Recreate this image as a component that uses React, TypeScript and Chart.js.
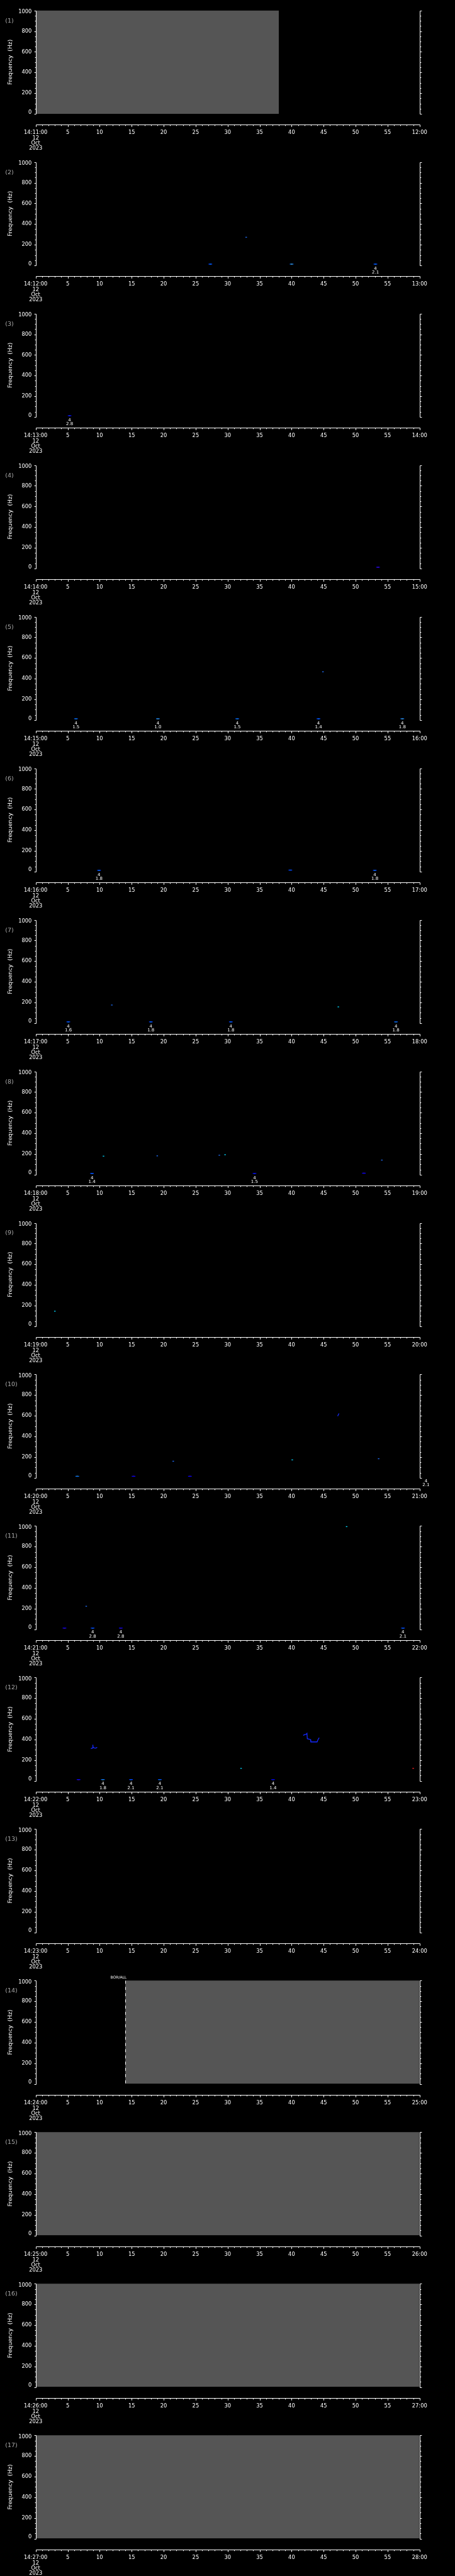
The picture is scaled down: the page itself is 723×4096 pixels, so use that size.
import React, { useEffect, useRef } from 'react';
import { Chart, registerables } from 'chart.js';

Chart.register(...registerables);

// ---------------- data ----------------
const startLabels = [
  '14:11:00', '14:12:00', '14:13:00', '14:14:00', '14:15:00', '14:16:00', '14:17:00', '14:18:00', '14:19:00',
  '14:20:00', '14:21:00', '14:22:00', '14:23:00', '14:24:00', '14:25:00', '14:26:00', '14:27:00',
];
const endLabels = [
  '12:00', '13:00', '14:00', '15:00', '16:00', '17:00', '18:00', '19:00', '20:00',
  '21:00', '22:00', '23:00', '24:00', '25:00', '26:00', '27:00', '28:00',
];
const dateLines = ['12', 'Oct', '2023'];
const secondTicks = [5, 10, 15, 20, 25, 30, 35, 40, 45, 50, 55];
const freqTicks = [0, 200, 400, 600, 800, 1000];

// no-data (gray) interval per panel, seconds
const noDataFrom: (number | null)[] = [0, null, null, null, null, null, null, null, null, null, null, null, null, 14, 0, 0, 0];
const noDataTo: (number | null)[] = [38, null, null, null, null, null, null, null, null, null, null, null, null, 60, 60, 60, 60];

// markers of the event "4" and its value, per panel
const markerTime: (number | null)[] = [null, null, null, null, null, null, null, null, null, null, null, null, null, 14, null, null, null];
const markerText = ['BOR/ALL'];

// low-frequency bursts per panel: [second, Hz, level, annotation]
type Burst = [number, number, number, string[] | null];
const bursts: Burst[][] = [
  [],
  [[27.3, 12, 2, null], [40.0, 12, 4, null], [53.1, 12, 2, ['4', '2.1']]],
  [[5.3, 12, 1, ['4', '2.8']]],
  [[53.5, 12, 5, null]],
  [[6.3, 12, 3, ['4', '1.5']], [19.1, 12, 4, ['4', '1.0']], [31.5, 12, 3, ['4', '1.5']], [44.2, 12, 2, ['4', '1.4']], [57.3, 12, 4, ['4', '1.8']]],
  [[9.9, 12, 2, ['4', '1.8']], [39.8, 14, 2, null], [53.0, 12, 2, ['4', '1.8']]],
  [[5.1, 12, 2, ['4', '1.6']], [18.0, 12, 2, ['4', '1.8']], [30.5, 12, 2, ['4', '1.8']], [56.3, 12, 3, ['4', '1.8']]],
  [[8.8, 12, 2, ['4', '1.4']], [34.2, 12, 1, ['4', '1.5']], [51.3, 14, 5, null]],
  [],
  [[6.5, 14, 4, null], [15.3, 14, 5, null], [24.1, 14, 5, null], [61.0, 8, 3, ['4', '2.1']]],
  [[4.5, 12, 5, null], [8.9, 12, 2, ['4', '2.8']], [13.3, 12, 5, ['4', '2.8']], [57.4, 12, 2, ['4', '2.1']]],
  [[6.7, 12, 5, null], [10.5, 12, 4, ['4', '1.8']], [14.9, 12, 2, ['4', '2.1']], [19.4, 12, 3, ['4', '2.1']], [37.1, 12, 1, ['4', '1.4']], [61.4, 8, 3, null]],
  [], [], [], [], [],
];

// isolated spectral dots per panel: [second, Hz, level]
const dots: [number, number, number][][] = [
  [[17.7, 18, 5]],
  [[32.9, 272, 1]],
  [],
  [],
  [[44.9, 467, 1]],
  [],
  [[11.9, 175, 1], [47.3, 157, 2]],
  [[10.6, 179, 2], [19.0, 182, 1], [28.7, 188, 1], [29.6, 193, 2], [54.1, 141, 1]],
  [[3.0, 145, 2]],
  [[21.5, 160, 1], [40.1, 173, 2], [53.6, 184, 1]],
  [[7.9, 223, 1], [48.6, 994, 2]],
  [[32.1, 121, 2], [59.0, 121, 5]],
  [], [], [], [], [],
];

// frequency tracks per panel: polylines of [second, Hz]
const tracks: [number, number][][][] = [
  [], [], [], [], [], [], [], [], [],
  [[[47.2, 597], [47.3, 610], [47.4, 622]]],
  [],
  [
    [[8.62, 312], [8.93, 319], [8.93, 350], [8.95, 330], [9.16, 318], [9.39, 317], [9.61, 324]],
    [[41.81, 440], [42.04, 448], [42.27, 451], [42.4, 460], [42.45, 408], [42.72, 404], [42.95, 400], [43.0, 377], [43.4, 377], [43.85, 377], [43.99, 377], [44.08, 394], [44.31, 417]],
  ],
  [], [], [], [], [],
];

// ---------------- layout ----------------
const S = 723 / 1024;
const PANEL_H = (5802 / 17) * S;
const CANVAS_H = 241;
const FONT = '"DejaVu Sans", sans-serif';

const outerColor = ['#0000d8', '#0000e8', '#0040ff', '#0050ff', '#0070ff', '#0000ff'];
const innerColor = ['#1050ff', '#2070ff', '#00d8ff', '#30ff70', '#f0ff20', '#ff2020'];

function makeAxesPlugin(i: number) {
  return {
    id: 'idlAxes' + i,
    afterDatasetsDraw(chart: any) {
      const { ctx, chartArea: a, scales } = chart;
      const x = scales.x;
      const y = scales.y;
      const L = Math.round(a.left) + 0.5;
      const R = Math.round(a.right) + 0.5;
      const yTop = Math.round(y.getPixelForValue(1000)) + 0.5;
      const yBot = Math.round(y.getPixelForValue(0)) + 0.5;
      ctx.save();
      ctx.strokeStyle = '#ffffff';
      ctx.fillStyle = '#ffffff';
      ctx.lineWidth = 1;

      // panel 14 event marker (dashed line)
      const mt = markerTime[i];
      if (mt !== null) {
        const mx = Math.round(x.getPixelForValue(mt)) + 0.5;
        ctx.save();
        ctx.setLineDash([4.7, 5.2]);
        ctx.beginPath();
        ctx.moveTo(mx, yTop);
        ctx.lineTo(mx, yBot);
        ctx.stroke();
        ctx.restore();
        ctx.font = `6px ${FONT}`;
        ctx.textAlign = 'left';
        ctx.textBaseline = 'middle';
        ctx.fillText(markerText[0], mx - 24, a.top - 5);
      }

      // y axes
      ctx.beginPath();
      ctx.moveTo(L, yTop);
      ctx.lineTo(L, yBot);
      ctx.moveTo(R, yTop);
      ctx.lineTo(R, yBot);
      for (let v = 0; v <= 1000; v += 50) {
        const py = Math.round(y.getPixelForValue(v)) + 0.5;
        const len = v % 200 === 0 ? 2.9 : 1.9;
        ctx.moveTo(L, py);
        ctx.lineTo(L - len, py);
        ctx.moveTo(R, py);
        ctx.lineTo(R + len, py);
      }
      ctx.stroke();

      ctx.font = `8.3px ${FONT}`;
      ctx.textAlign = 'right';
      ctx.textBaseline = 'middle';
      freqTicks.forEach((v) => {
        let py = y.getPixelForValue(v);
        if (v === 1000) py += 2.6;
        if (v === 0) py -= 2.5;
        ctx.fillText(String(v), a.left - 6.4, py);
      });

      // x axis (detached)
      const ya = Math.round(a.bottom + 17.2) + 0.5;
      ctx.beginPath();
      ctx.moveTo(L, ya);
      ctx.lineTo(R, ya);
      for (let s = 0; s <= 60; s += 1) {
        const px = Math.round(x.getPixelForValue(s)) + 0.5;
        const len = s % 5 === 0 ? 3.3 : 1.8;
        ctx.moveTo(px, ya);
        ctx.lineTo(px, ya + len);
      }
      ctx.stroke();

      ctx.textAlign = 'center';
      const ly = ya + 12.2;
      ctx.fillText(startLabels[i], x.getPixelForValue(0), ly);
      secondTicks.forEach((s) => ctx.fillText(String(s), x.getPixelForValue(s), ly));
      ctx.fillText(endLabels[i], x.getPixelForValue(60), ly);
      const dOff = [20.9, 29.3, 37.4];
      dateLines.forEach((t, k) => ctx.fillText(t, x.getPixelForValue(0), ya + dOff[k]));

      // burst annotations
      ctx.font = `7px ${FONT}`;
      bursts[i].forEach((b) => {
        if (!b[3]) return;
        const px = x.getPixelForValue(b[0]);
        ctx.fillText(b[3][0], px, a.bottom + 5.0);
        ctx.fillText(b[3][1], px, a.bottom + 11.4);
      });

      // y title
      ctx.save();
      ctx.font = `9.2px ${FONT}`;
      ctx.translate(16.5, (a.top + a.bottom) / 2);
      ctx.rotate(-Math.PI / 2);
      ctx.textAlign = 'center';
      ctx.fillText('Frequency  (Hz)', 0, 0);
      ctx.restore();

      // panel number
      ctx.fillStyle = '#a8a8a8';
      ctx.font = `9.5px ${FONT}`;
      ctx.textAlign = 'left';
      ctx.fillText(`(${i + 1})`, 8.2, a.top + 16.5);

      ctx.restore();
    },
  };
}

function Panel({ index }: { index: number }) {
  const ref = useRef<HTMLCanvasElement | null>(null);
  const top = Math.round(index * PANEL_H);
  const d = index * PANEL_H - top;

  useEffect(() => {
    if (!ref.current) return;
    const datasets: any[] = [];
    const from = noDataFrom[index];
    const to = noDataTo[index];
    if (from !== null && to !== null) {
      datasets.push({
        data: [{ x: from, y: 1000 }, { x: to, y: 1000 }],
        fill: 'start',
        backgroundColor: '#555555',
        borderColor: '#555555',
        borderWidth: 1,
        pointRadius: 0,
        showLine: true,
      });
    }
    tracks[index].forEach((tr) => {
      datasets.push({
        data: tr.map((p) => ({ x: p[0], y: p[1] })),
        borderColor: '#1428ff',
        borderWidth: 1.3,
        pointRadius: 0,
        fill: false,
        showLine: true,
        tension: 0,
      });
    });
    const bs = bursts[index];
    if (bs.length) {
      datasets.push({
        data: bs.map((b) => ({ x: b[0], y: b[1] })),
        showLine: false,
        pointStyle: 'line',
        pointRadius: 2.9,
        pointBorderWidth: 1.3,
        pointBorderColor: bs.map((b) => outerColor[b[2]]),
        clip: false,
      });
      datasets.push({
        data: bs.map((b) => ({ x: b[0], y: b[1] })),
        showLine: false,
        pointStyle: 'line',
        pointRadius: 1.3,
        pointBorderWidth: 1.3,
        pointBorderColor: bs.map((b) => innerColor[b[2]]),
        clip: false,
      });
    }
    const ds = dots[index];
    if (ds.length) {
      datasets.push({
        data: ds.map((b) => ({ x: b[0], y: b[1] })),
        showLine: false,
        pointStyle: 'line',
        pointRadius: 1.2,
        pointBorderWidth: 1.3,
        pointBorderColor: ds.map((b) => innerColor[b[2]]),
        clip: false,
      });
    }

    const plotTop = d + 23.7 * S;
    const plotBottom = d + 256.3 * S;
    const chart = new Chart(ref.current, {
      type: 'line',
      data: { datasets },
      options: {
        animation: false,
        responsive: false,
        events: [],
        layout: {
          padding: {
            left: 80.3 * S,
            right: 723 - 944.3 * S,
            top: plotTop,
            bottom: CANVAS_H - plotBottom,
          },
        },
        scales: {
          x: { type: 'linear', min: 0, max: 60, display: false },
          y: { type: 'linear', min: 0, max: 1000, display: false },
        },
        plugins: { legend: { display: false }, tooltip: { enabled: false }, title: { display: false } },
      },
      plugins: [makeAxesPlugin(index)],
    });
    return () => chart.destroy();
  }, [index, d]);

  return (
    <canvas
      ref={ref}
      width={723}
      height={CANVAS_H}
      style={{ position: 'absolute', left: 0, top, width: 723, height: CANVAS_H, display: 'block' }}
    />
  );
}

export default function App() {
  useEffect(() => {
    document.body.style.margin = '0';
    document.body.style.background = '#000';
  }, []);
  return (
    <div style={{ position: 'absolute', left: 0, top: 0, width: 723, height: 4096, background: '#000', overflow: 'hidden' }}>
      {startLabels.map((_, i) => (
        <Panel key={i} index={i} />
      ))}
    </div>
  );
}
